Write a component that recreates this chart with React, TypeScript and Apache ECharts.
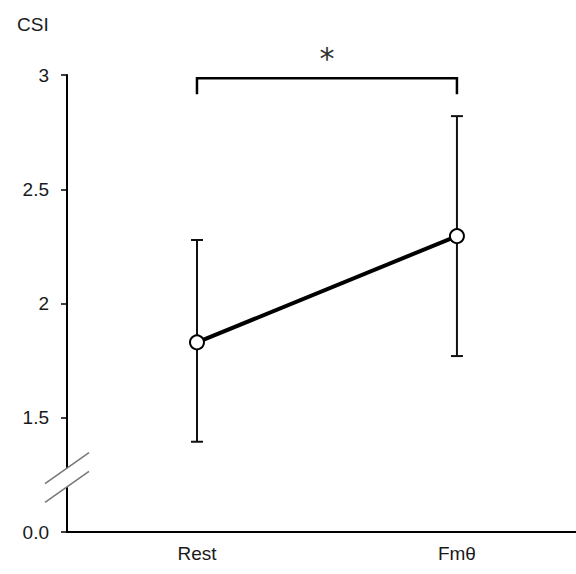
import React, { useEffect, useRef } from "react";
import * as echarts from "echarts";

const categories = ["Rest", "Fmθ"];
const means = [1.83, 2.295];
const upper = [2.278, 2.82];
const lower = [1.395, 1.77];
const yTickLabels: Record<string, string> = { "1": "0.0", "1.5": "1.5", "2": "2", "2.5": "2.5", "3": "3" };
const sigText = "*";
const bracketY = 2.986;
const bracketDrop = 0.07;
const breakFrom = 1.197;
const breakTo = 1.28;

export default function App() {
  const ref = useRef<HTMLDivElement>(null);
  useEffect(() => {
    if (!ref.current) return;
    const chart = echarts.init(ref.current, null, { renderer: "svg" });
    const font = "Liberation Sans, Arial, sans-serif";
    const txt = "#1a1a1a";
    chart.setOption({
      animation: false,
      grid: { left: 67, top: 75, bottom: 42, right: 0 },
      title: {
        text: "CSI",
        left: 12,
        top: 10,
        textStyle: { fontFamily: font, fontSize: 19, fontWeight: "normal", color: txt },
      },
      xAxis: {
        type: "value",
        min: -0.5,
        max: 1.458,
        interval: 0.5,
        splitLine: { show: false },
        axisTick: { show: false },
        axisLine: { onZero: false, lineStyle: { color: "#000", width: 2 } },
        axisLabel: {
          fontFamily: font,
          fontSize: 19,
          color: txt,
          margin: 12,
          showMaxLabel: false,
          showMinLabel: false,
          formatter: (v: number) => {
            const i = Math.round(v);
            return Math.abs(v - i) < 1e-6 && categories[i] !== undefined ? categories[i] : "";
          },
        },
      },
      yAxis: {
        type: "value",
        min: 1,
        max: 3,
        interval: 0.5,
        splitLine: { show: false },
        axisLine: { show: true, onZero: false, lineStyle: { color: "#000", width: 2 } },
        axisTick: { show: true, length: 6, lineStyle: { color: "#000", width: 1.5 } },
        axisLabel: {
          fontFamily: font,
          fontSize: 19,
          color: txt,
          margin: 18,
          formatter: (v: number) => yTickLabels[String(v)] ?? "",
        },
      },
      series: [
        {
          type: "custom",
          z: 2,
          data: categories.map((_, i) => [i, lower[i], upper[i]]),
          renderItem: (params: any, api: any) => {
            const x = api.value(0);
            const lo = api.coord([x, api.value(1)]);
            const hi = api.coord([x, api.value(2)]);
            const hw = 6;
            const st = { stroke: "#111", lineWidth: 2 };
            return {
              type: "group",
              children: [
                { type: "line", shape: { x1: lo[0], y1: lo[1], x2: hi[0], y2: hi[1] }, style: st },
                { type: "line", shape: { x1: lo[0] - hw, y1: lo[1], x2: lo[0] + hw, y2: lo[1] }, style: st },
                { type: "line", shape: { x1: hi[0] - hw, y1: hi[1], x2: hi[0] + hw, y2: hi[1] }, style: st },
              ],
            };
          },
        },
        {
          type: "line",
          z: 3,
          data: categories.map((_, i) => [i, means[i]]),
          lineStyle: { color: "#000", width: 4 },
          symbol: "circle",
          symbolSize: 14,
          itemStyle: { color: "#fff", borderColor: "#000", borderWidth: 2 },
        },
      ],
    });
    const p = (x: number, y: number) => chart.convertToPixel({ gridIndex: 0 } as any, [x, y]) as number[];
    const b0 = p(0, bracketY);
    const b1 = p(1, bracketY);
    const bd = p(0, bracketY - bracketDrop);
    const gTop = p(-0.5, breakTo);
    const gBot = p(-0.5, breakFrom);
    const ax = gTop[0];
    const brk = (yc: number) => ({
      type: "line",
      z: 20,
      shape: { x1: ax - 22, y1: yc + 15.5, x2: ax + 22, y2: yc - 15.5 },
      style: { stroke: "#777", lineWidth: 1.5 },
    });
    chart.setOption({
      graphic: [
        {
          type: "polyline",
          z: 10,
          shape: { points: [[b0[0], bd[1]], [b0[0], b0[1]], [b1[0], b1[1]], [b1[0], bd[1]]] },
          style: { stroke: "#000", lineWidth: 2.5, fill: null },
        },
        {
          type: "text",
          z: 10,
          x: (b0[0] + b1[0]) / 2,
          y: b0[1] - 20,
          style: { text: sigText, fontFamily: "DejaVu Sans, sans-serif", fontSize: 30, fill: "#333", align: "center", verticalAlign: "middle" },
        },
        {
          type: "rect",
          z: 15,
          shape: { x: ax - 3, y: gTop[1], width: 6, height: gBot[1] - gTop[1] },
          style: { fill: "#fff" },
        },
        brk(gTop[1]),
        brk(gBot[1]),
      ],
    });
    return () => chart.dispose();
  }, []);
  return (
    <div
      ref={ref}
      style={{ position: "absolute", left: 0, top: 0, width: 576, height: 574, background: "#fff" }}
    />
  );
}
